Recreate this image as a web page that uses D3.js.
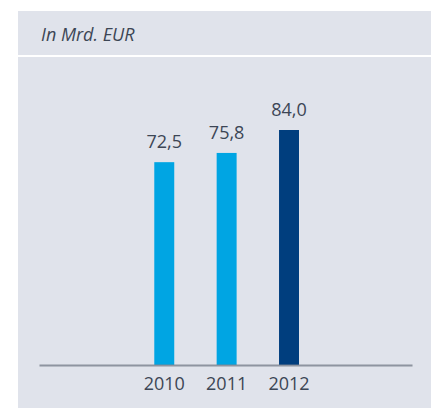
<!DOCTYPE html>
<html><head><meta charset="utf-8">
<script src="https://cdn.jsdelivr.net/npm/d3@7"></script>
<style>html,body{margin:0;padding:0;background:#fff;}svg{display:block;}</style>
</head><body>
<script>
const years = ["2010", "2011", "2012"];
const values = [72.5, 75.8, 84.0];
const labels = ["72,5", "75,8", "84,0"];
const barColors = ["#00a5e3", "#00a5e3", "#003e7e"];
const unitLabel = "In Mrd. EUR";

const W = 431, H = 408;
const svg = d3.select("body").append("svg").attr("width", W).attr("height", H);
const bg = "#e0e3eb", txt = "#3c4655";
svg.append("rect").attr("x", 18).attr("y", 11).attr("width", W - 18).attr("height", 44).attr("fill", bg);
svg.append("rect").attr("x", 18).attr("y", 57).attr("width", W - 18).attr("height", H - 57).attr("fill", bg);
svg.append("text").attr("x", 41).attr("y", 41).attr("font-family", "Open Sans").attr("font-style", "italic")
  .attr("font-size", 18).attr("fill", txt).text(unitLabel);

const axL = 39, axR = 412, baseY = 365;
const x = d3.scaleBand().domain(years).range([axL, axR]).paddingInner(0.68).paddingOuter(1.83).align(0.505);
const y = d3.scaleLinear().domain([0, 84]).range([baseY, 130]);

svg.selectAll("rect.bar").data(values).join("rect").attr("class", "bar")
  .attr("x", (d, i) => x(years[i])).attr("width", x.bandwidth())
  .attr("y", d => y(d)).attr("height", d => baseY - y(d)).attr("fill", (d, i) => barColors[i]);

svg.selectAll("text.val").data(values).join("text").attr("class", "val")
  .attr("x", (d, i) => x(years[i]) + x.bandwidth() / 2).attr("y", d => y(d) - 14)
  .attr("text-anchor", "middle").attr("font-family", "Open Sans").attr("font-size", 18).attr("fill", txt)
  .text((d, i) => labels[i]);

const axis = d3.axisBottom(x).tickSize(0).tickPadding(12);
const g = svg.append("g").attr("transform", `translate(0,${baseY})`).call(axis);
g.select(".domain").attr("stroke", "#7f8693").attr("stroke-width", 2).attr("opacity", 0.85);
g.selectAll("text").attr("font-family", "Open Sans").attr("font-size", 18).attr("fill", txt);
</script>
</body></html>
